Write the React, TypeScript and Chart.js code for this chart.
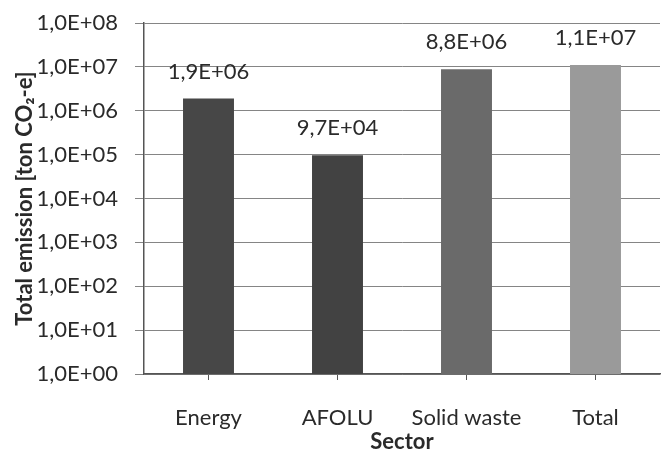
import React, { useEffect, useRef } from "react";
import { Chart, registerables } from "chart.js";

Chart.register(...registerables);

const categories = ["Energy", "AFOLU", "Solid waste", "Total"];
const emissions = [1.9e6, 9.7e4, 8.8e6, 1.1e7];
const barColors = ["#474747", "#424242", "#6a6a6a", "#9a9a9a"];
const yTickValues = [1, 1e1, 1e2, 1e3, 1e4, 1e5, 1e6, 1e7, 1e8];
const yTickLabels = [
  "1,0E+00",
  "1,0E+01",
  "1,0E+02",
  "1,0E+03",
  "1,0E+04",
  "1,0E+05",
  "1,0E+06",
  "1,0E+07",
  "1,0E+08",
];
const yTitle = "Total emission [ton CO\u2082-e]";
const xTitle = "Sector";

const FONT = "Lato";
const TEXT = "#2a2a2a";

function formatSci(v: number): string {
  const exp = Math.floor(Math.log10(v));
  const mant = v / Math.pow(10, exp);
  const e = (exp < 10 ? "0" : "") + exp;
  return mant.toFixed(1).replace(".", ",") + "E+" + e;
}

const dataLabelPlugin = {
  id: "dataLabels",
  afterDatasetsDraw(chart: any) {
    const ctx = chart.ctx;
    const meta = chart.getDatasetMeta(0);
    ctx.save();
    ctx.font = `22px ${FONT}`;
    ctx.fillStyle = TEXT;
    ctx.textAlign = "center";
    ctx.textBaseline = "middle";
    meta.data.forEach((bar: any, i: number) => {
      ctx.fillText(formatSci(emissions[i]), bar.x, bar.y - 27);
    });
    ctx.restore();
  },
};

export default function App() {
  const ref = useRef<HTMLCanvasElement>(null);
  useEffect(() => {
    if (!ref.current) return;
    const chart = new Chart(ref.current, {
      type: "bar",
      data: {
        labels: categories,
        datasets: [
          {
            data: emissions,
            backgroundColor: barColors,
            borderWidth: 0,
            categoryPercentage: 1,
            barPercentage: 0.395,
          },
        ],
      },
      options: {
        animation: false,
        responsive: true,
        maintainAspectRatio: false,
        layout: { padding: { left: 0, right: 8, top: 23, bottom: 0 } },
        plugins: { legend: { display: false }, tooltip: { enabled: false } },
        scales: {
          x: {
            type: "category",
            afterFit: (s: any) => {
              s.height = 79;
              s.paddingLeft = 0;
              s.paddingRight = 0;
            },
            grid: {
              offset: false,
              drawOnChartArea: false,
              drawTicks: true,
              tickLength: 6,
              color: "#555555",
            },
            border: { color: "#555555", width: 1.5 },
            ticks: {
              color: TEXT,
              font: { family: FONT, size: 22 },
              padding: 25,
              maxRotation: 0,
            },
            title: {
              display: true,
              text: xTitle,
              color: TEXT,
              font: { family: FONT, size: 22, weight: "bold", lineHeight: 1 },
              padding: { top: 2, bottom: 0 },
            },
          },
          y: {
            type: "logarithmic",
            min: 1,
            max: 1e8,
            afterFit: (s: any) => {
              s.width = 144;
              s.paddingTop = 0;
              s.paddingBottom = 0;
            },
            afterBuildTicks: (s: any) => {
              s.ticks = yTickValues.map((v) => ({ value: v }));
            },
            grid: {
              color: "#858585",
              tickLength: 9,
              lineWidth: 1,
            },
            border: { color: "#555555", width: 1.5 },
            ticks: {
              color: TEXT,
              font: { family: FONT, size: 22 },
              padding: 17,
              callback: (v: any) => {
                const i = yTickValues.indexOf(Number(v));
                return i >= 0 ? yTickLabels[i] : "";
              },
            },
            title: {
              display: true,
              text: yTitle,
              color: TEXT,
              font: { family: FONT, size: 22, weight: "bold" },
              padding: { top: 12, bottom: 0 },
            },
          },
        },
      },
      plugins: [dataLabelPlugin],
    });
    return () => chart.destroy();
  }, []);
  return (
    <div
      style={{
        position: "fixed",
        left: 0,
        top: 0,
        width: 668,
        height: 453,
        background: "#ffffff",
      }}
    >
      <canvas ref={ref} />
    </div>
  );
}
